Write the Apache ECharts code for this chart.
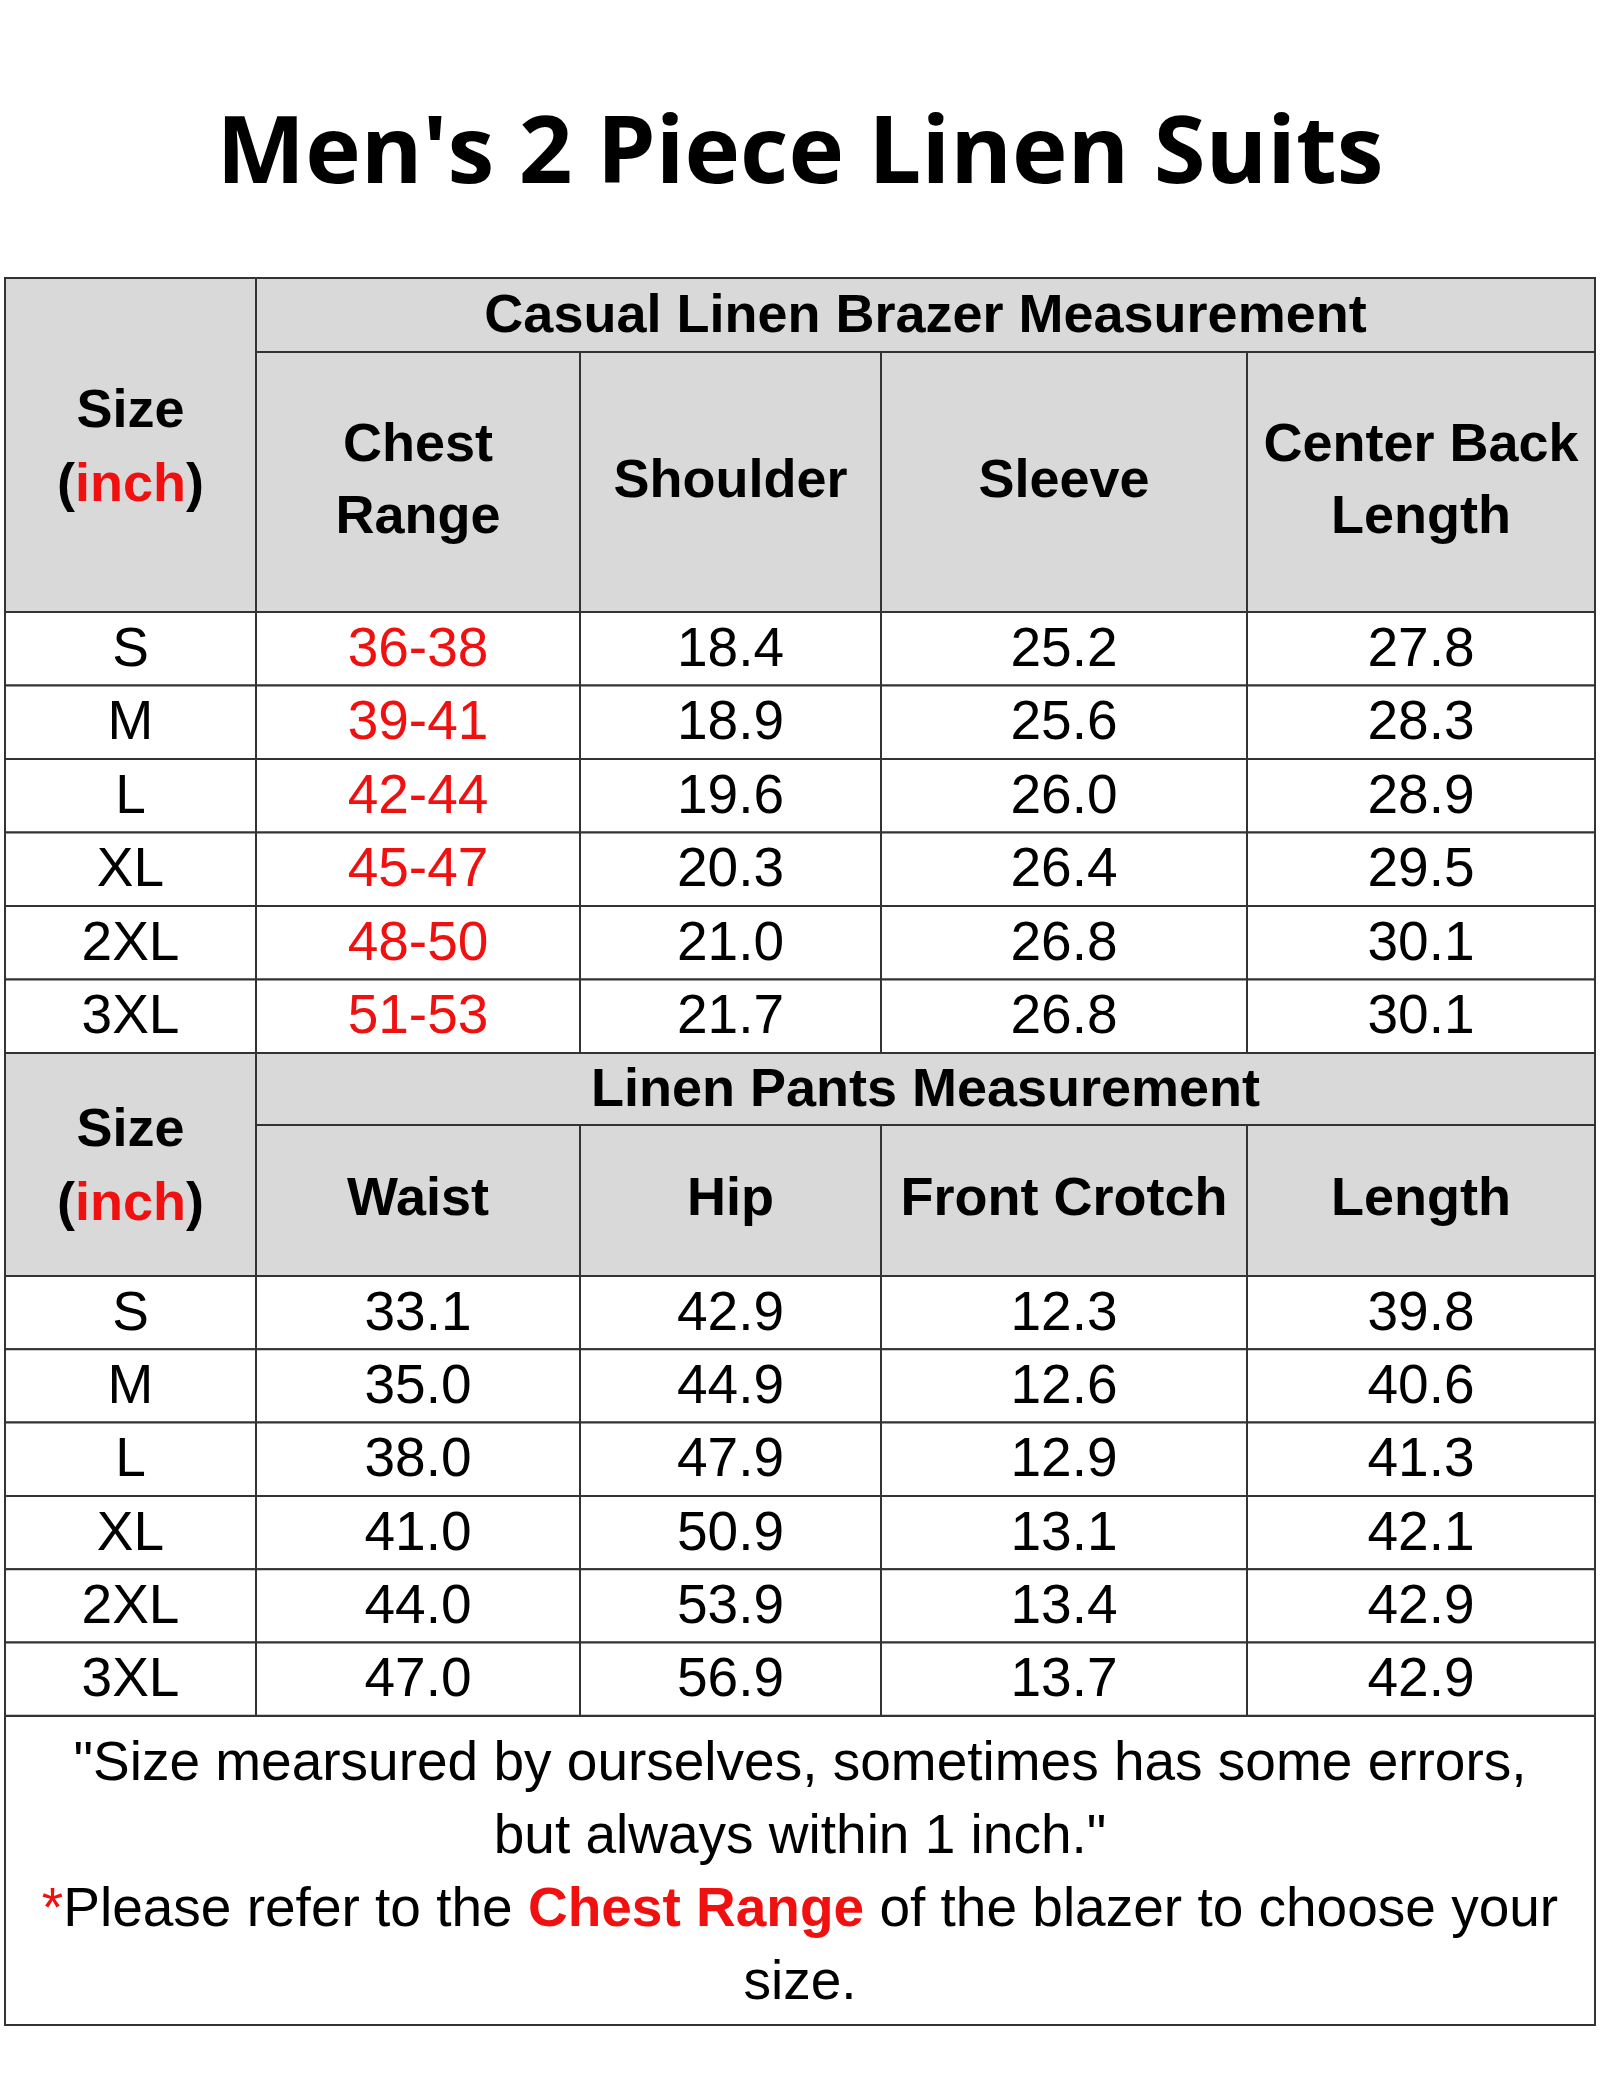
<!DOCTYPE html>
<html><head><meta charset="utf-8">
<script src="https://cdn.jsdelivr.net/npm/echarts@6/dist/echarts.min.js"></script>
<style>html,body{margin:0;background:#fff}#c{width:1600px;height:2074px}</style>
</head><body><div id="c"></div>
<script>
var title = "Men's 2 Piece Linen Suits";
var sizes = ['S', 'M', 'L', 'XL', '2XL', '3XL'];
var blazerTitle = 'Casual Linen Brazer Measurement';
var blazerCols = ['Chest\nRange', 'Shoulder', 'Sleeve', 'Center Back\nLength'];
var chest = ['36-38', '39-41', '42-44', '45-47', '48-50', '51-53'];
var shoulder = ['18.4', '18.9', '19.6', '20.3', '21.0', '21.7'];
var sleeve = ['25.2', '25.6', '26.0', '26.4', '26.8', '26.8'];
var backLength = ['27.8', '28.3', '28.9', '29.5', '30.1', '30.1'];
var pantsTitle = 'Linen Pants Measurement';
var pantsCols = ['Waist', 'Hip', 'Front Crotch', 'Length'];
var waist = ['33.1', '35.0', '38.0', '41.0', '44.0', '47.0'];
var hip = ['42.9', '44.9', '47.9', '50.9', '53.9', '56.9'];
var crotch = ['12.3', '12.6', '12.9', '13.1', '13.4', '13.7'];
var pantsLength = ['39.8', '40.6', '41.3', '42.1', '42.9', '42.9'];

var colX = [5, 256, 580, 881, 1247, 1595];
var RED = '#f01010', GREY = '#d9d9d9', FONT = '"Liberation Sans", Arial, sans-serif';
var g = [];

function cell(x0, y0, x1, y1, fill) {
  g.push({type: 'rect', shape: {x: x0, y: y0, width: x1 - x0, height: y1 - y0},
    style: {fill: fill, stroke: '#333', lineWidth: 2}});
}
function text(x, y, t, opt) {
  g.push({type: 'text', x: x, y: y, style: Object.assign({text: t, align: 'center', verticalAlign: 'middle',
    font: '55px ' + FONT, fill: '#000'}, opt || {})});
}
function sizeLabel(x, y) {
  g.push({type: 'text', x: x, y: y, style: {
    text: '{b|Size}\n{b|(}{r|inch}{b|)}', align: 'center', verticalAlign: 'middle',
    rich: {b: {font: 'bold 54px ' + FONT, fill: '#000', lineHeight: 74},
           r: {font: 'bold 54px ' + FONT, fill: RED, lineHeight: 74}}}});
}
function block(top, subTop, headBottom, rowH, heading, cols, data, redFirst) {
  var mid = function (i) { return (colX[i] + colX[i + 1]) / 2; };
  cell(colX[0], top, colX[1], headBottom, GREY);
  sizeLabel(mid(0), (top + headBottom) / 2 + 4);
  cell(colX[1], top, colX[5], subTop, GREY);
  text((colX[1] + colX[5]) / 2, (top + subTop) / 2 + 2, heading, {font: 'bold 54px ' + FONT});
  cols.forEach(function (c, i) {
    cell(colX[i + 1], subTop, colX[i + 2], headBottom, GREY);
    text(mid(i + 1), (subTop + headBottom) / 2, c, {font: 'bold 54px ' + FONT, lineHeight: 72});
  });
  sizes.forEach(function (s, r) {
    var y0 = headBottom + r * rowH, y1 = y0 + rowH, yc = (y0 + y1) / 2 + 2;
    cell(colX[0], y0, colX[1], y1, '#fff');
    text(mid(0), yc, s);
    data.forEach(function (arr, i) {
      cell(colX[i + 1], y0, colX[i + 2], y1, '#fff');
      text(mid(i + 1), yc, arr[r], {fill: (redFirst && i === 0) ? RED : '#000'});
    });
  });
}

text(800, 156, title, {font: 'bold 94px "Open Sans", ' + FONT});
block(278, 352, 612, 73.5, blazerTitle, blazerCols, [chest, shoulder, sleeve, backLength], true);
block(1053, 1125, 1276, 73.3, pantsTitle, pantsCols, [waist, hip, crotch, pantsLength], false);
cell(colX[0], 1716, colX[5], 2025, '#fff');
text(800, 1765, '"Size mearsured by ourselves, sometimes has some errors,', {font: '55px ' + FONT});
text(800, 1838, 'but always within 1 inch."', {font: '55px ' + FONT});
g.push({type: 'text', x: 800, y: 1911, style: {
  text: '{r|*}{n|Please refer to the }{rb|Chest Range}{n| of the blazer to choose your}',
  align: 'center', verticalAlign: 'middle',
  rich: {r: {font: '55px ' + FONT, fill: RED}, n: {font: '55px ' + FONT, fill: '#000'},
         rb: {font: 'bold 55px ' + FONT, fill: RED}}}});
text(800, 1984, 'size.', {font: '55px ' + FONT});

var chart = echarts.init(document.getElementById('c'));
chart.setOption({backgroundColor: '#fff', animation: false, graphic: g});
</script></body></html>
